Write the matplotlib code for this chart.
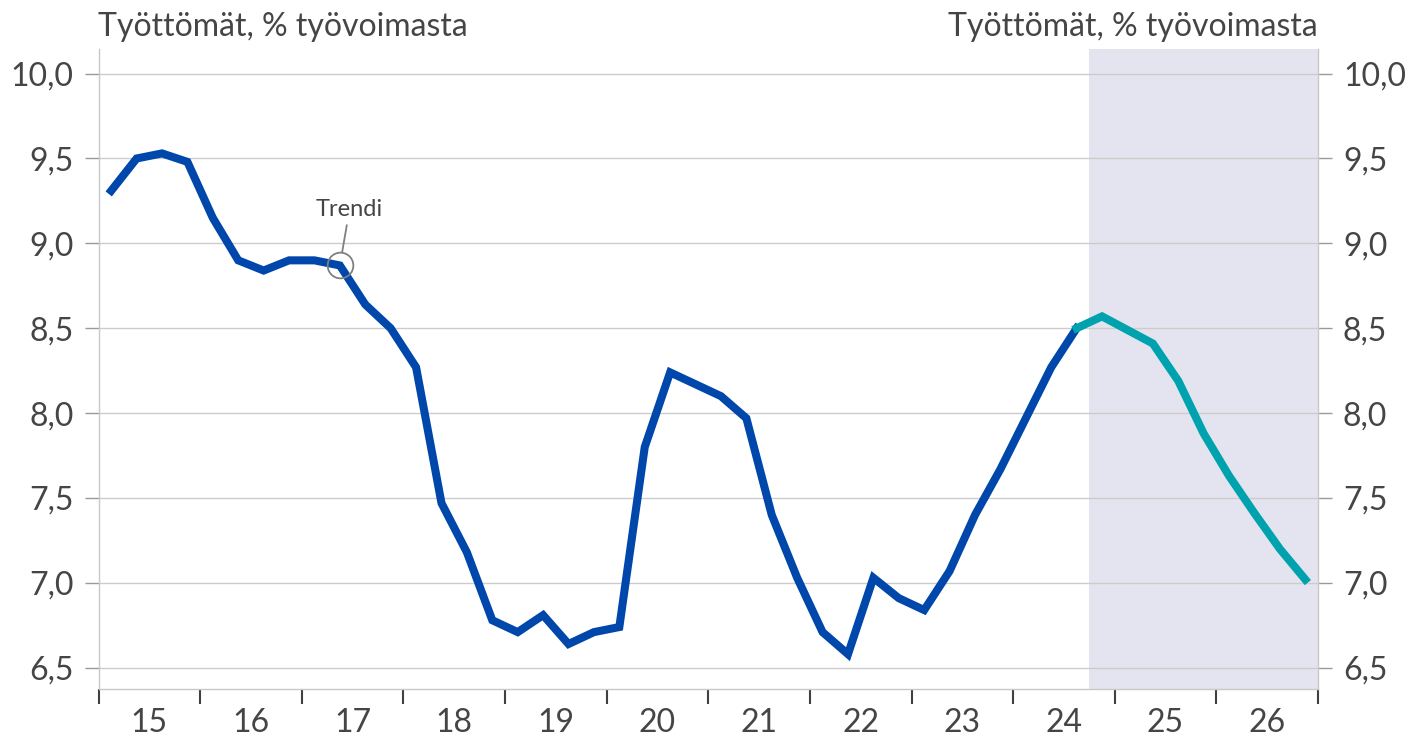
import matplotlib.pyplot as plt
import numpy as np
from matplotlib.ticker import FixedLocator, NullFormatter

# Unemployment rate, trend, quarterly 2015Q1 - 2026Q4 (forecast from 2024Q4)
years = list(range(2015, 2027))
year_labels = [str(y)[2:] for y in years]
unemp = [9.31, 9.50, 9.53, 9.48,
         9.15, 8.90, 8.84, 8.90,
         8.90, 8.87, 8.64, 8.50,
         8.27, 7.47, 7.18, 6.78,
         6.71, 6.81, 6.64, 6.71,
         6.74, 7.80, 8.24, 8.17,
         8.10, 7.97, 7.40, 7.03,
         6.71, 6.58, 7.03, 6.91,
         6.84, 7.07, 7.40, 7.67,
         7.97, 8.27, 8.50, 8.57,
         8.49, 8.41, 8.19, 7.88,
         7.63, 7.41, 7.20, 7.02]
last_actual = 38       # 2024Q3, last point of the blue part
forecast_start = 2024.75
trend_idx = 9          # 2017Q2, marked "Trendi"
yticks = [6.5, 7.0, 7.5, 8.0, 8.5, 9.0, 9.5, 10.0]

plt.rcParams['font.family'] = ['Lato', 'DejaVu Sans']
txt = '#454545'

x = 2015 + (np.arange(len(unemp)) + 0.5) / 4
y = np.array(unemp)

fig = plt.figure(figsize=(14.11, 7.45), dpi=100)
ax = fig.add_axes([98.5 / 1411, 56 / 745, (1318 - 98.5) / 1411, (689 - 49) / 745])

ax.axvspan(forecast_start, 2027, color='#E4E4F0', zorder=0, lw=0)
ax.plot(x[:last_actual + 1], y[:last_actual + 1], color='#0047AB', lw=5.8,
        solid_joinstyle='miter', zorder=3)
ax.plot(x[last_actual:], y[last_actual:], color='#00A3AD', lw=5.8,
        solid_joinstyle='miter', zorder=3)

ax.set_xlim(2015, 2027)
ax.set_ylim(6.375, 10.145)

ax.set_yticks(yticks)
ax.set_yticklabels([f'{v:.1f}'.replace('.', ',') for v in yticks])
ax.yaxis.grid(True, color='#CCCCCC', lw=1)
ax.set_axisbelow(True)
ax.tick_params(axis='y', which='both', left=True, right=True, labelleft=True,
               labelright=True, length=10, width=1, color='#999999',
               labelsize=23, labelcolor=txt, pad=8)

ax.xaxis.set_major_locator(FixedLocator(years + [2027]))
ax.xaxis.set_major_formatter(NullFormatter())
ax.xaxis.set_minor_locator(FixedLocator([yy + 0.5 for yy in years]))
ax.set_xticklabels(year_labels, minor=True)
ax.tick_params(axis='x', which='major', length=11, width=1.5, color='#404040',
               direction='out')
ax.tick_params(axis='x', which='minor', length=0, labelsize=23, labelcolor=txt,
               pad=14)

for s in ['left', 'right', 'bottom']:
    ax.spines[s].set_color('#C8C8C8')
    ax.spines[s].set_linewidth(1)
ax.spines['top'].set_visible(False)

# Trend label with circle
ax.plot(x[trend_idx], y[trend_idx], marker='o', ms=18.5, mfc='none', mec='#808080',
        mew=1.3, zorder=4)
ax.annotate('Trendi', xy=(x[trend_idx], y[trend_idx]), xytext=(7, 33),
            textcoords='offset points', ha='center', va='bottom', fontsize=17,
            color=txt,
            arrowprops=dict(arrowstyle='-', color='#808080', lw=1.3,
                            shrinkA=2, shrinkB=9.5))

fig.text(98 / 1411, 1 - 36 / 745, 'Työttömät, % työvoimasta', ha='left',
         va='baseline', fontsize=23, color=txt)
fig.text(1318 / 1411, 1 - 36 / 745, 'Työttömät, % työvoimasta', ha='right',
         va='baseline', fontsize=23, color=txt)

fig.savefig('out.png', dpi=100)
